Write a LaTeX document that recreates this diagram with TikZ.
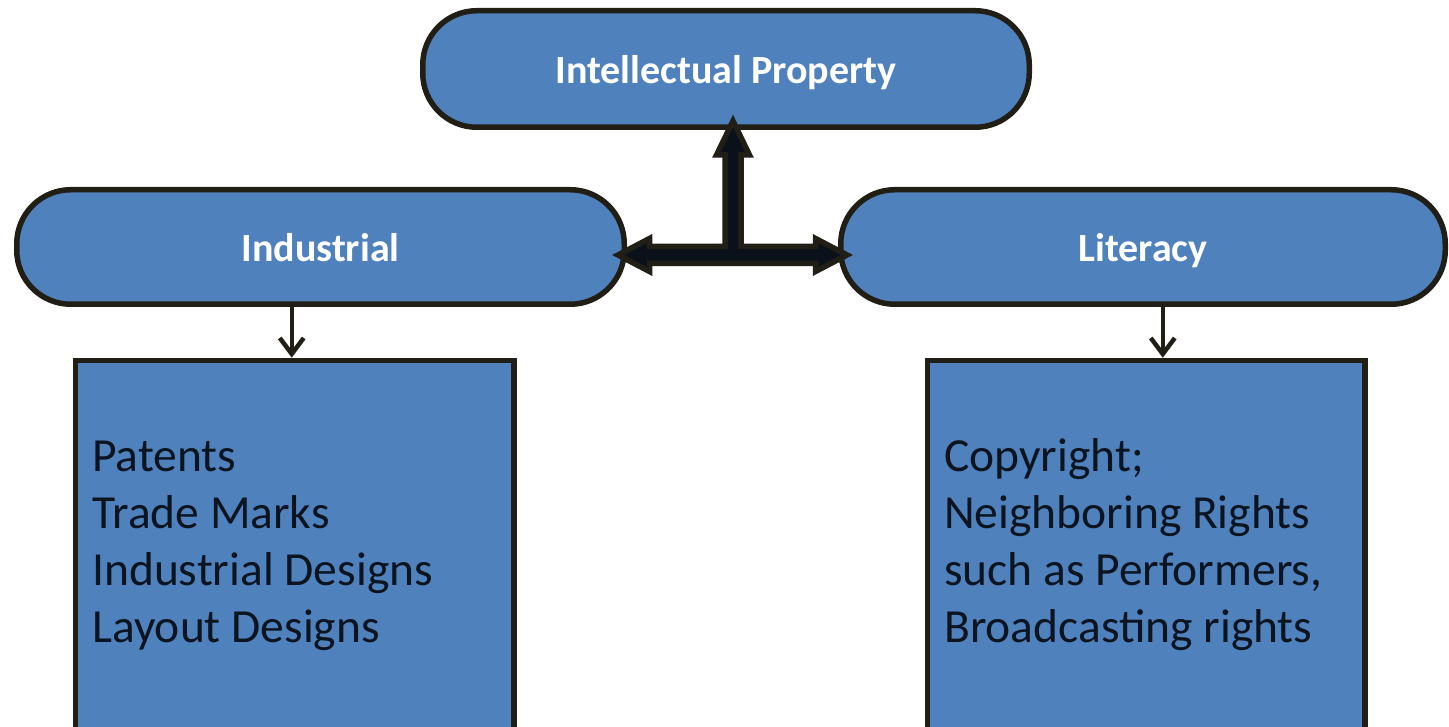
\documentclass[tikz,border=0pt]{standalone}
\usepackage{fontspec}
\setmainfont{Carlito}
\usetikzlibrary{arrows.meta,calc}
\definecolor{ipblue}{HTML}{4F81BD}
\definecolor{ipedge}{HTML}{201E15}
\definecolor{ipink}{HTML}{0C1420}
\definecolor{ipnavy}{HTML}{0B111A}
\tikzset{
  x=1pt, y=1pt,
  stadium/.style={draw=ipedge, line width=5.5pt, fill=ipblue, rounded corners=54pt,
    inner sep=0pt, text=white, font=\fontsize{40}{48}\selectfont\bfseries,
    text height=29pt, text depth=0pt},
  listbox/.style={draw=ipedge, line width=5.5pt, fill=ipblue, inner sep=0pt},
  listtext/.style={anchor=base west, inner sep=0pt, text=ipink, align=left,
    font=\fontsize{47.5}{57}\selectfont},
  thinarrow/.style={draw=ipedge, line width=4.5pt,
    -{Straight Barb[length=16pt,width=24pt]}},
  blockarrow/.style={draw=ipedge, fill=ipnavy, line width=5.5pt, line join=miter}
}
\begin{document}
\begin{tikzpicture}
\useasboundingbox (0,0) rectangle (1449,727);

% the three category capsules
\node[stadium, minimum width=606.5pt, minimum height=116.5pt] (ip) at (726,658) {Intellectual Property};
\node[stadium, minimum width=607.5pt, minimum height=114.5pt] (ind) at (320.5,480) {Industrial};
\node[stadium, minimum width=604.5pt, minimum height=114.5pt] (lit) at (1143,480) {Literacy};

% the two list boxes, running off the bottom edge
\node[listbox, minimum width=438.5pt, minimum height=380pt, anchor=north west] (indbox) at (72.75,369.25) {};
\node[listbox, minimum width=437.5pt, minimum height=380pt, anchor=north west] (litbox) at (924.75,369.25) {};

% list texts (anchored at the baseline of their last line)
\node[listtext] (indlist) at ($(indbox.north west)+(19.25,-285.25)$)
  {Patents\\Trade Marks\\Industrial Designs\\Layout Designs};
\node[listtext] (litlist) at ($(litbox.north west)+(19.25,-285.25)$)
  {Copyright;\\Neighboring Rights\\such as Performers,\\Broadcasting rights};

% small arrows from capsules down to boxes
\draw[thinarrow] ($(indbox.north |- ind.south)+(-3,0)$) -- ($(indbox.north)+(-3,0)$);
\draw[thinarrow] ($(litbox.north |- lit.south)+(16.5,0)$) -- ($(litbox.north)+(16.5,0)$);

% T-shaped block arrow joining the three capsules
\coordinate (hub) at ($(ip.south |- ind.east)+(7,-8)$);
\begin{scope}[shift={(hub)}]
\path[blockarrow]
  (0,134) -- (16.5,100) -- (8,100) -- (8,8.5)
  -- (82.5,8.5) -- (82.5,16.5) -- (114,0) -- (82.5,-16.5) -- (82.5,-8.5)
  -- (-83.5,-8.5) -- (-83.5,-16.5) -- (-115,0) -- (-83.5,16.5) -- (-83.5,8.5)
  -- (-8,8.5) -- (-8,100) -- (-16.5,100) -- cycle;
\end{scope}
\end{tikzpicture}
\end{document}
